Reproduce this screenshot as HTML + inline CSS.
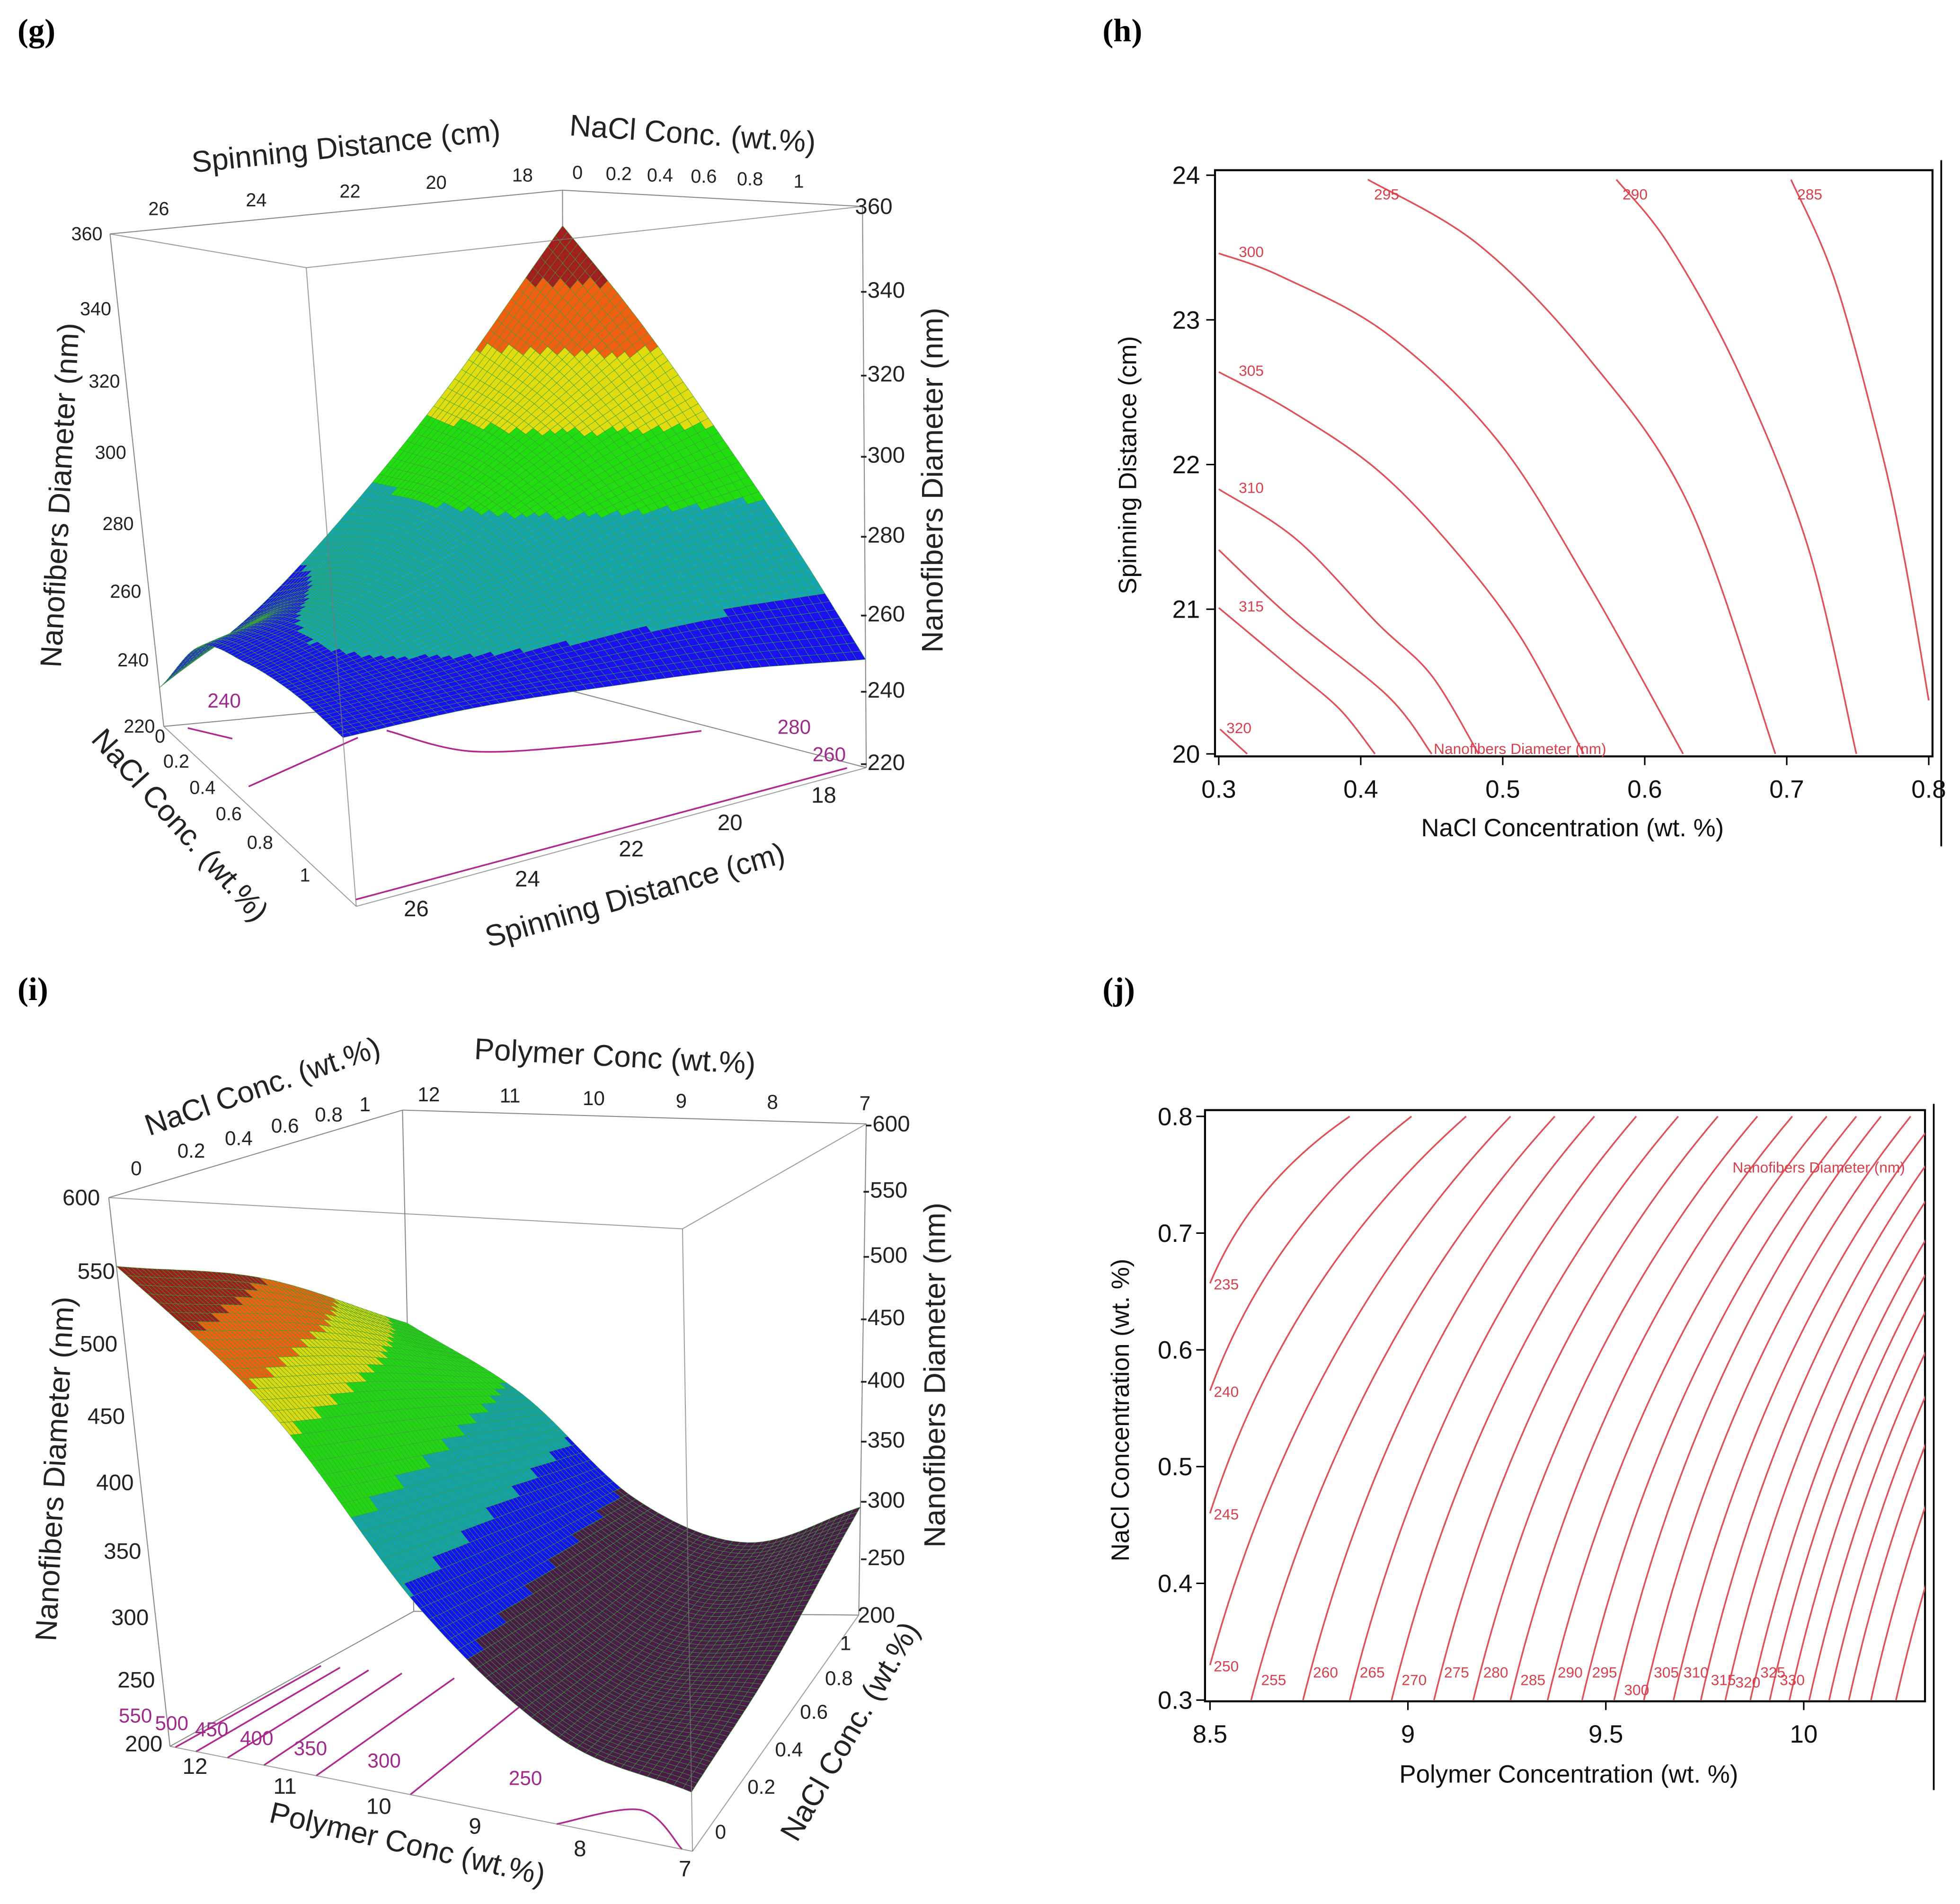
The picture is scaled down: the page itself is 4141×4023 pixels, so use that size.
<!DOCTYPE html>
<html><head><meta charset="utf-8"><style>
html,body{margin:0;padding:0;background:#fff;}
svg{display:block;font-family:"Liberation Sans",sans-serif;}
.t{font-size:18px;fill:#222;}
.tt{font-size:24px;fill:#222;}
.ct{font-size:20px;fill:#111;}
.cl{font-size:12px;fill:#d8404c;}
.pl{font-family:"Liberation Serif",serif;font-weight:bold;font-size:26px;fill:#000;}
</style></head><body>
<svg id="fig" width="4141" height="4023" viewBox="0 0 1568 1523" xmlns="http://www.w3.org/2000/svg">
<rect x="0" y="0" width="1568" height="1523" fill="#fff"/>
<text class="pl" x="14" y="33">(g)</text>
<text class="pl" x="882" y="33">(h)</text>
<text class="pl" x="14" y="800">(i)</text>
<text class="pl" x="882" y="800">(j)</text>

<g id="gPanel"></g>
<g id="gText" class="t">
<text class="tt" x="277" y="125" text-anchor="middle" transform="rotate(-6 277 119)">Spinning Distance (cm)</text>
<text class="tt" x="554" y="115" text-anchor="middle" transform="rotate(4 554 109)">NaCl Conc.  (wt.%)</text>
<text x="127" y="172" text-anchor="middle" font-size="15">26</text>
<text x="205" y="165" text-anchor="middle" font-size="15">24</text>
<text x="280" y="158" text-anchor="middle" font-size="15">22</text>
<text x="349" y="151" text-anchor="middle" font-size="15">20</text>
<text x="418" y="145" text-anchor="middle" font-size="15">18</text>
<text x="462" y="143" text-anchor="middle" font-size="15">0</text>
<text x="495" y="144" text-anchor="middle" font-size="15">0.2</text>
<text x="528" y="145" text-anchor="middle" font-size="15">0.4</text>
<text x="563" y="146" text-anchor="middle" font-size="15">0.6</text>
<text x="600" y="148" text-anchor="middle" font-size="15">0.8</text>
<text x="639" y="150" text-anchor="middle" font-size="15">1</text>
<text x="82" y="192" text-anchor="end" font-size="15">360</text>
<text x="89" y="252" text-anchor="end" font-size="15">340</text>
<text x="96" y="310" text-anchor="end" font-size="15">320</text>
<text x="101" y="367" text-anchor="end" font-size="15">300</text>
<text x="107" y="424" text-anchor="end" font-size="15">280</text>
<text x="113" y="478" text-anchor="end" font-size="15">260</text>
<text x="119" y="533" text-anchor="end" font-size="15">240</text>
<text x="124" y="586" text-anchor="end" font-size="15">220</text>
<text class="tt" x="48" y="396" text-anchor="middle" transform="rotate(-87 48 396)" dy="8">Nanofibers Diameter (nm)</text>
<text x="684" y="171" font-size="18">360</text>
<text x="688" y="238" font-size="18">-340</text>
<text x="688" y="305" font-size="18">-320</text>
<text x="688" y="370" font-size="18">-300</text>
<text x="688" y="434" font-size="18">-280</text>
<text x="688" y="497" font-size="18">-260</text>
<text x="688" y="558" font-size="18">-240</text>
<text x="688" y="616" font-size="18">-220</text>
<text class="tt" x="746" y="384" text-anchor="middle" dy="8" transform="rotate(-90 746 384)">Nanofibers Diameter (nm)</text>
<text x="128" y="594" text-anchor="middle" font-size="15">0</text>
<text x="141" y="614" text-anchor="middle" font-size="15">0.2</text>
<text x="162" y="635" text-anchor="middle" font-size="15">0.4</text>
<text x="183" y="656" text-anchor="middle" font-size="15">0.6</text>
<text x="208" y="679" text-anchor="middle" font-size="15">0.8</text>
<text x="244" y="705" text-anchor="middle" font-size="15">1</text>
<text class="tt" x="144" y="660" text-anchor="middle" dy="8" transform="rotate(48 144 660)" font-size="26">NaCl Conc.   (wt.%)</text>
<text x="333" y="733" text-anchor="middle">26</text>
<text x="422" y="709" text-anchor="middle">24</text>
<text x="505" y="685" text-anchor="middle">22</text>
<text x="584" y="664" text-anchor="middle">20</text>
<text x="659" y="642" text-anchor="middle">18</text>
<text class="tt" x="508" y="716" text-anchor="middle" dy="8" font-size="27" transform="rotate(-16 508 716)">Spinning Distance (cm)</text>
</g>

<g id="iPanel"></g>
<g id="iText" class="t">
<text class="tt" x="210" y="869" dy="8" text-anchor="middle" transform="rotate(-19 210 869)">NaCl Conc. (wt.%)</text>
<text x="109" y="940" text-anchor="middle" font-size="16">0</text>
<text x="153" y="926" text-anchor="middle" font-size="16">0.2</text>
<text x="191" y="916" text-anchor="middle" font-size="16">0.4</text>
<text x="228" y="906" text-anchor="middle" font-size="16">0.6</text>
<text x="263" y="897" text-anchor="middle" font-size="16">0.8</text>
<text x="292" y="889" text-anchor="middle" font-size="16">1</text>
<text class="tt" x="492" y="853" text-anchor="middle" transform="rotate(3 492 845)">Polymer Conc (wt.%)</text>
<text x="343" y="881" text-anchor="middle" font-size="16">12</text>
<text x="408" y="882" text-anchor="middle" font-size="16">11</text>
<text x="475" y="884" text-anchor="middle" font-size="16">10</text>
<text x="545" y="886" text-anchor="middle" font-size="16">9</text>
<text x="618" y="887" text-anchor="middle" font-size="16">8</text>
<text x="692" y="888" text-anchor="middle" font-size="16">7</text>
<text x="80" y="964" text-anchor="end">600</text>
<text x="92" y="1023" text-anchor="end">550</text>
<text x="94" y="1081" text-anchor="end">500</text>
<text x="100" y="1139" text-anchor="end">450</text>
<text x="107" y="1192" text-anchor="end">400</text>
<text x="113" y="1247" text-anchor="end">350</text>
<text x="119" y="1300" text-anchor="end">300</text>
<text x="124" y="1350" text-anchor="end">250</text>
<text x="130" y="1401" text-anchor="end">200</text>
<text class="tt" x="43" y="1175" text-anchor="middle" dy="9" font-size="26" transform="rotate(-87 43 1175)">Nanofibers Diameter (nm)</text>
<text x="692" y="905">-600</text>
<text x="690" y="958">-550</text>
<text x="690" y="1010">-500</text>
<text x="688" y="1060">-450</text>
<text x="688" y="1110">-400</text>
<text x="688" y="1158">-350</text>
<text x="688" y="1206">-300</text>
<text x="688" y="1252">-250</text>
<text x="686" y="1298">200</text>
<text class="tt" x="748" y="1100" text-anchor="middle" dy="8" transform="rotate(-90 748 1100)">Nanofibers Diameter (nm)</text>
<text x="156" y="1419" text-anchor="middle">12</text>
<text x="228" y="1435" text-anchor="middle">11</text>
<text x="303" y="1451" text-anchor="middle">10</text>
<text x="380" y="1467" text-anchor="middle">9</text>
<text x="464" y="1485" text-anchor="middle">8</text>
<text x="548" y="1501" text-anchor="middle">7</text>
<text class="tt" x="326" y="1475" text-anchor="middle" dy="8" font-size="27" transform="rotate(13 326 1475)">Polymer Conc (wt.%)</text>
<text x="672" y="1320" font-size="16">1</text>
<text x="660" y="1348" font-size="16">0.8</text>
<text x="640" y="1375" font-size="16">0.6</text>
<text x="620" y="1405" font-size="16">0.4</text>
<text x="598" y="1435" font-size="16">0.2</text>
<text x="572" y="1471" font-size="16">0</text>
<text class="tt" x="680" y="1385" text-anchor="middle" dy="8" font-size="26" transform="rotate(-60 680 1385)">NaCl Conc. (wt.%)</text>
</g>

<g id="hPanel"></g>
<g id="jPanel"></g>
</svg>
<script>
// ---------- DATA: panel g (rows NaCl, cols spinning distance) ----------
const gNacl = [0, 0.25, 0.5, 0.75, 1];
const gSpin = [27, 24.5, 22, 19.5, 17];
const gZ0   = [231, 250, 277, 310, 350];
const gZ25  = [253, 262, 280, 302, 326];
const gZ50  = [258, 266, 276, 289, 300];
const gZ75  = [259, 262, 267, 272, 274];
const gZ100 = [257, 257, 255, 252, 247];
const gBands = [262, 283, 300, 318, 335];
const gFloor260 = [[0.97, 26.9], [0.97, 17.2]];
const gFloor280 = [[0.16, 22.4], [0.36, 21.6], [0.45, 19.5], [0.5, 17.3]];
const gFloor240a = [[0.35, 26.6], [0.18, 23.2]];
const gFloor240b = [[0.02, 26.5], [0.1, 25.8]];
// ---------- DATA: panel i (rows NaCl, cols polymer) ----------
const iNacl = [0, 0.5, 1];
const iPoly = [12, 10.75, 9.5, 8.25, 7];
const iZ0   = [550, 455, 330, 258, 238];
const iZ50  = [505, 420, 310, 250, 252];
const iZ100 = [430, 375, 292, 258, 288];
const iBands = [300, 340, 385, 440, 470, 505];
const iFloorLevels = [550, 500, 450, 400, 350, 300];
const iFloorP0 = [11.95, 11.75, 11.45, 11.1, 10.6, 9.7];
const iFloorP1 = [11.95, 11.75, 11.45, 11.1, 10.55, 9.6];
const iFloorArc = [[0.0, 8.3], [0.12, 7.7], [0.0, 7.1]];
// ---------- DATA: panel h contours (NaCl, spinning distance) ----------
const hLevels = [285, 290, 295, 300, 305, 310, 312.5, 315, 320];
const h285 = [[0.703, 23.97], [0.734, 23.27], [0.766, 22.12], [0.783, 21.34], [0.8, 20.37]];
const h290 = [[0.58, 23.97], [0.617, 23.52], [0.666, 22.64], [0.715, 21.43], [0.749, 20]];
const h295 = [[0.405, 23.97], [0.483, 23.52], [0.56, 22.74], [0.631, 21.72], [0.692, 20]];
const h300 = [[0.3, 23.46], [0.344, 23.3], [0.419, 22.9], [0.496, 22.17], [0.56, 21.18], [0.627, 20]];
const h305 = [[0.3, 22.64], [0.351, 22.37], [0.412, 21.96], [0.466, 21.41], [0.513, 20.8], [0.557, 20]];
const h310 = [[0.3, 21.83], [0.355, 21.48], [0.412, 20.9], [0.45, 20.54], [0.483, 20]];
const h312 = [[0.3, 21.41], [0.351, 20.94], [0.419, 20.4], [0.45, 20]];
const h315 = [[0.3, 21.01], [0.35, 20.6], [0.385, 20.31], [0.41, 20]];
const h320 = [[0.301, 20.17], [0.32, 20]];
const hLines = [h285, h290, h295, h300, h305, h310, h312, h315, h320];
const hLabeled = [true, true, true, true, true, true, false, true, true];
const hXTicks = [0.3, 0.4, 0.5, 0.6, 0.7, 0.8];
const hYTicks = [20, 21, 22, 23, 24];
// ---------- DATA: panel j contours (polymer, NaCl) ----------
const jLevels = [235,240,245,250,255,260,265,270,275,280,285,290,295,300,305,310,315,320,325,330,335,340,345,350,355,360];
const jX0 = [8.5,8.5,8.5,8.5,8.604,8.735,8.853,8.959,9.066,9.165,9.259,9.353,9.44,9.521,9.596,9.671,9.74,9.802,9.865,9.914,9.964,10.014,10.064,10.114,10.17,10.233];
const jY0 = [0.657,0.565,0.46,0.33,0.3,0.3,0.3,0.3,0.3,0.3,0.3,0.3,0.3,0.3,0.3,0.3,0.3,0.3,0.3,0.3,0.3,0.3,0.3,0.3,0.3,0.3];
const jX1 = [8.853,9.009,9.147,9.259,9.371,9.471,9.577,9.683,9.783,9.883,9.971,10.058,10.133,10.195,10.27,10.34,10.4,10.46,10.52,10.57,10.62,10.67,10.72,10.77,10.83,10.9];
const jXTicks = [8.5, 9, 9.5, 10];
const jXTickLabels = ['8.5', '9', '9.5', '10'];
const jYTicks = [0.3, 0.4, 0.5, 0.6, 0.7, 0.8];

const NS = 'http://www.w3.org/2000/svg';
function mk(tag, attrs, parent) {
  const el = document.createElementNS(NS, tag);
  for (const k in attrs) el.setAttribute(k, attrs[k]);
  parent.appendChild(el);
  return el;
}
function lerp(a, b, t) { return a + (b - a) * t; }
function triProj(C, u, v, w) {
  let px = 0, py = 0;
  for (let a = 0; a < 2; a++) for (let b = 0; b < 2; b++) for (let c = 0; c < 2; c++) {
    const wt = (a ? u : 1 - u) * (b ? v : 1 - v) * (c ? w : 1 - w);
    const p = C['' + a + b + c];
    px += wt * p[0]; py += wt * p[1];
  }
  return [px, py];
}
function cr1(arr, t) {
  const K = arr.length - 1, f = t * K;
  const i = Math.min(Math.floor(f), K - 1), s = f - i;
  const p1 = arr[i], p2 = arr[i + 1];
  const p0 = i > 0 ? arr[i - 1] : 2 * p1 - p2;
  const p3 = i + 2 <= K ? arr[i + 2] : 2 * p2 - p1;
  return 0.5 * ((2 * p1) + (-p0 + p2) * s + (2 * p0 - 5 * p1 + 4 * p2 - p3) * s * s + (-p0 + 3 * p1 - 3 * p2 + p3) * s * s * s);
}
function smoothZ(table, u, v) {
  const col = table.map(row => cr1(row, v));
  return cr1(col, u);
}
function crPath(pts) {
  if (pts.length < 3) return 'M' + pts.map(p => p[0].toFixed(1) + ',' + p[1].toFixed(1)).join('L');
  let d = 'M' + pts[0][0].toFixed(1) + ',' + pts[0][1].toFixed(1);
  for (let i = 0; i < pts.length - 1; i++) {
    const p0 = pts[i - 1] || pts[i], p1 = pts[i], p2 = pts[i + 1], p3 = pts[i + 2] || p2;
    const c1 = [p1[0] + (p2[0] - p0[0]) / 6, p1[1] + (p2[1] - p0[1]) / 6];
    const c2 = [p2[0] - (p3[0] - p1[0]) / 6, p2[1] - (p3[1] - p1[1]) / 6];
    d += 'C' + c1.map(v => v.toFixed(1)).join(',') + ' ' + c2.map(v => v.toFixed(1)).join(',') + ' ' + p2[0].toFixed(1) + ',' + p2[1].toFixed(1);
  }
  return d;
}
function drawSurface(root, C, table, zMin, zMax, bands, colors, keyFn, frontSet, floorLines, floorLabels, name) {
  const edges = [['000','001'],['010','011'],['100','101'],['110','111'],['000','010'],['010','110'],['110','100'],['100','000'],['001','011'],['011','111'],['111','101'],['101','001']];
  const back = mk('g', {}, root);
  
  
  const front = [];
  edges.forEach(e => {
    const isFront = frontSet.includes(e[0].slice(0, 2)) || frontSet.includes(e[1].slice(0, 2));
    if (isFront) { front.push(e); return; }
    const a = C[e[0]], b = C[e[1]];
    const ln = mk('line', {x1: a[0], y1: a[1], x2: b[0], y2: b[1], stroke: '#8a8a8a', 'stroke-width': 0.8}, back);
    
    
  });
  const fl = mk('g', {}, root);
  
  
  floorLines.forEach(pts => {
    const pp = pts.map(p => triProj(C, p[0], p[1], 0));
    const path = mk('path', {d: crPath(pp), fill: 'none', stroke: '#b0288e', 'stroke-width': 1.3}, fl);
    
    
  });
  floorLabels.forEach(l => {
    const t = mk('text', {x: l[1], y: l[2], 'font-size': 16, fill: '#a02a8a'}, fl);
    t.textContent = l[0];
    
    
  });
  const N = 60;
  const grid = [];
  for (let a = 0; a <= N; a++) { grid.push([]); for (let b = 0; b <= N; b++) grid[a].push(smoothZ(table, a / N, b / N)); }
  const quads = [];
  for (let a = 0; a < N; a++) for (let b = 0; b < N; b++) {
    const u0 = a / N, u1 = (a + 1) / N, v0 = b / N, v1 = (b + 1) / N;
    const zs = [grid[a][b], grid[a + 1][b], grid[a + 1][b + 1], grid[a][b + 1]];
    const pts = [[u0, v0], [u1, v0], [u1, v1], [u0, v1]].map((q, k) => triProj(C, q[0], q[1], (zs[k] - zMin) / (zMax - zMin)));
    const zc = (zs[0] + zs[1] + zs[2] + zs[3]) / 4;
    let ci = 0; while (ci < bands.length && zc >= bands[ci]) ci++;
    quads.push({k: keyFn((u0 + u1) / 2, (v0 + v1) / 2), pts, col: colors[ci]});
  }
  quads.sort((p, q) => p.k - q.k);
  const sg = mk('g', {}, root);
  
  
  quads.forEach(q => {
    const poly = mk('polygon', {points: q.pts.map(p => p[0].toFixed(1) + ',' + p[1].toFixed(1)).join(' '), fill: q.col, stroke: '#3aa03a', 'stroke-width': 0.3}, sg);
    
    
  });
  const fg = mk('g', {}, root);
  
  
  front.forEach(e => {
    const a = C[e[0]], b = C[e[1]];
    const ln = mk('line', {x1: a[0], y1: a[1], x2: b[0], y2: b[1], stroke: '#777', 'stroke-width': 0.8, 'stroke-opacity': 0.7}, fg);
    
    
  });
}

// ---- panel g ----
(function () {
  const C = {'000': [131, 581], '001': [88, 187], '100': [285, 725], '101': [245, 214], '110': [693, 614], '111': [690, 165], '010': [451, 551], '011': [450, 152]};
  const table = [gZ0, gZ25, gZ50, gZ75, gZ100];
  const cols = ['#1c10f0', '#16a6b0', '#22dd10', '#e0dc10', '#f06010', '#a02020'];
  const vOf = s => (gSpin[0] - s) / (gSpin[0] - gSpin[gSpin.length - 1]);
  const floor = [gFloor260, gFloor280, gFloor240a, gFloor240b].map(l => l.map(p => [p[0], vOf(p[1])]));
  drawSurface(document.getElementById('gPanel'), C, table, 220, 360, gBands, cols,
    (u, v) => u - v, ['10'], floor, [['240', 166, 566], ['280', 622, 587], ['260', 650, 609]], 'g');
})();
// ---- panel i ----
(function () {
  const C = {'000': [136, 1397], '001': [87, 958], '010': [554, 1481], '011': [546, 983], '110': [687, 1292], '111': [693, 899], '100': [331, 1289], '101': [322, 888]};
  const table = [iZ0, iZ50, iZ100];
  const cols = ['#4a1c48', '#1414ee', '#14a2aa', '#22d614', '#dcd810', '#f06010', '#9a2020'];
  const vOf = p => (iPoly[0] - p) / (iPoly[0] - iPoly[iPoly.length - 1]);
  const floor = iFloorLevels.map((lv, k) => [[0, vOf(iFloorP0[k])], [0.6, vOf(iFloorP1[k])]]);
  floor.push(iFloorArc.map(p => [p[0], vOf(p[1])]));
  const labs = [['550', 95, 1378], ['500', 124, 1384], ['450', 156, 1389], ['400', 192, 1396], ['350', 235, 1404], ['300', 294, 1414], ['250', 407, 1428]];
  drawSurface(document.getElementById('iPanel'), C, table, 200, 600, iBands, cols,
    (u, v) => v - u, ['01'], floor, labs, 'i');
})();

function contourFrame(root, name, X0, X1, Y0, Y1) {
  const r = mk('rect', {x: X0, y: Y0, width: X1 - X0, height: Y1 - Y0, fill: 'none', stroke: '#000', 'stroke-width': 1.6}, root);
  
  
}
// panel h
(function () {
  const root = document.getElementById('hPanel');
  const xs = v => 975 + (v - 0.3) / 0.5 * 568;
  const ys = v => 603 - (v - 20) / 4 * 463;
  contourFrame(root, 'h', 972, 1546, 136, 605);
  const art = mk('line', {x1: 1553, y1: 128, x2: 1553, y2: 677, stroke: '#000', 'stroke-width': 1.4}, root);
  
  
  hXTicks.forEach(t => {
    const l = mk('line', {x1: xs(t), y1: 605, x2: xs(t), y2: 612, stroke: '#000', 'stroke-width': 1.2}, root);
    
    
    const tx = mk('text', {x: xs(t), y: 638, 'text-anchor': 'middle', class: 'ct'}, root);
    tx.textContent = String(t);
    
    
  });
  hYTicks.forEach(t => {
    const l = mk('line', {x1: 965, y1: ys(t), x2: 972, y2: ys(t), stroke: '#000', 'stroke-width': 1.2}, root);
    
    
    const tx = mk('text', {x: 960, y: ys(t) + 7, 'text-anchor': 'end', class: 'ct'}, root);
    tx.textContent = String(t);
    
    
  });
  const xt = mk('text', {x: 1258, y: 669, 'text-anchor': 'middle', class: 'ct', 'font-size': 21}, root);
  xt.textContent = 'NaCl Concentration (wt. %)';
  
  
  const yt = mk('text', {x: 902, y: 372, 'text-anchor': 'middle', class: 'ct', 'font-size': 21, transform: 'rotate(-90 902 372)', dy: 7}, root);
  yt.textContent = 'Spinning Distance (cm)';
  
  
  hLines.forEach((ln, k) => {
    const pts = ln.map(p => [xs(p[0]), ys(p[1])]);
    const path = mk('path', {d: crPath(pts), fill: 'none', stroke: '#e0505a', 'stroke-width': 1.3}, root);
    
    
    if (hLabeled[k]) {
      const tx = mk('text', {x: pts[0][0] + (ln[0][0] <= 0.3 ? 16 : 5), y: pts[0][1] + (ln[0][1] >= 23.9 ? 16 : 3), class: 'cl'}, root);
      tx.textContent = String(hLevels[k]);
      
      
    }
  });
  const nm = mk('text', {x: 1147, y: 603, class: 'cl', 'font-size': 11}, root);
  nm.textContent = 'Nanofibers Diameter (nm)';
  
  
})();
// panel j
(function () {
  const root = document.getElementById('jPanel');
  const xs = v => 968 + (v - 8.5) / 1.5 * 475;
  const ys = v => 1360 - (v - 0.3) / 0.5 * 467;
  const defs = mk('defs', {}, root);
  const cp = mk('clipPath', {id: 'jclip'}, defs);
  mk('rect', {x: 964, y: 888, width: 576, height: 473}, cp);
  contourFrame(root, 'j', 964, 1540, 888, 1361);
  const art = mk('line', {x1: 1547, y1: 883, x2: 1547, y2: 1432, stroke: '#000', 'stroke-width': 1.4}, root);
  
  
  jXTicks.forEach((t, k) => {
    const l = mk('line', {x1: xs(t), y1: 1361, x2: xs(t), y2: 1368, stroke: '#000', 'stroke-width': 1.2}, root);
    
    
    const tx = mk('text', {x: xs(t), y: 1394, 'text-anchor': 'middle', class: 'ct'}, root);
    tx.textContent = jXTickLabels[k];
    
    
  });
  jYTicks.forEach(t => {
    const l = mk('line', {x1: 957, y1: ys(t), x2: 964, y2: ys(t), stroke: '#000', 'stroke-width': 1.2}, root);
    
    
    const tx = mk('text', {x: 954, y: ys(t) + 7, 'text-anchor': 'end', class: 'ct'}, root);
    tx.textContent = String(t);
    
    
  });
  const xt = mk('text', {x: 1255, y: 1426, 'text-anchor': 'middle', class: 'ct', 'font-size': 21}, root);
  xt.textContent = 'Polymer Concentration (wt. %)';
  
  
  const yt = mk('text', {x: 896, y: 1128, 'text-anchor': 'middle', class: 'ct', 'font-size': 21, transform: 'rotate(-90 896 1128)', dy: 7}, root);
  yt.textContent = 'NaCl Concentration (wt. %)';
  
  
  const lg = mk('g', {'clip-path': 'url(#jclip)'}, root);
  
  
  jLevels.forEach((lv, k) => {
    const x0 = xs(jX0[k]), y0 = ys(jY0[k]), x1 = xs(jX1[k]), y1 = ys(0.8);
    const cx = x0 + 0.3 * (x1 - x0), cy = y0 + 0.6 * (y1 - y0);
    const path = mk('path', {d: 'M' + x0.toFixed(1) + ',' + y0.toFixed(1) + ' Q' + cx.toFixed(1) + ',' + cy.toFixed(1) + ' ' + x1.toFixed(1) + ',' + y1.toFixed(1), fill: 'none', stroke: '#e0505a', 'stroke-width': 1.3}, lg);
    
    
    if (lv <= 330) {
      let lx, ly;
      if (jY0[k] > 0.3) { lx = x0 + 3; ly = y0 + 5; } else { lx = x0 + 8; ly = 1350 - (k % 3 === 1 ? -6 : 0) - 8 + (lv === 300 || lv === 320 ? 8 : 0); }
      const tx = mk('text', {x: lx, y: ly, class: 'cl', 'font-size': 12}, root);
      tx.textContent = String(lv);
      
      
    }
  });
  const nm = mk('text', {x: 1386, y: 938, class: 'cl', 'font-size': 11}, root);
  nm.textContent = 'Nanofibers Diameter (nm)';
  
  
})();
</script>
</body></html>
